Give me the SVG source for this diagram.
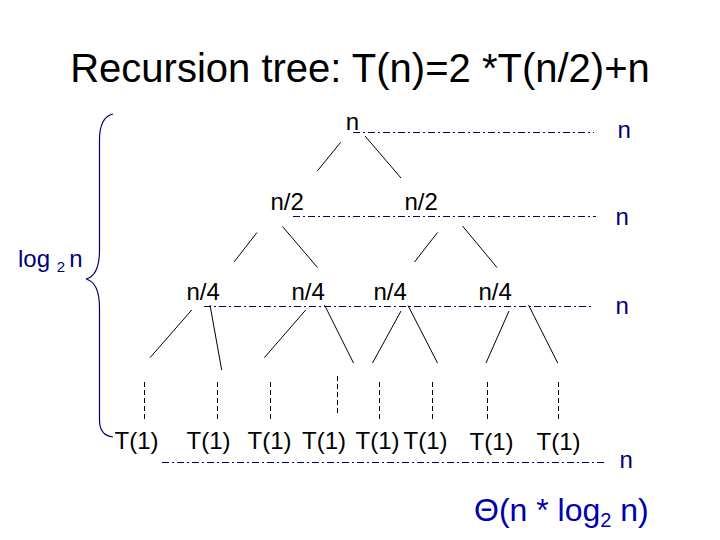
<svg xmlns="http://www.w3.org/2000/svg" width="720" height="540" viewBox="0 0 720 540">
<style>
text{font-family:"Liberation Sans",Arial,sans-serif;}
.lbl{font-size:24px;fill:#000;}
.blue{font-size:24px;fill:#00007a;}
.edge{stroke:#000;stroke-width:1;fill:none;}
.leaf{stroke:#000;stroke-width:1;stroke-dasharray:5,3;fill:none;}
.sum{stroke:#00005e;stroke-width:1;stroke-dasharray:7,3,2,3;fill:none;}
</style>
<rect width="720" height="540" fill="#fff"/>
<text id="title" x="360" y="82" text-anchor="middle" font-size="40" fill="#000">Recursion tree: T(n)=2 *T(n/2)+n</text>

<g id="connectors">
  <line class="edge" x1="340.7" y1="142.3" x2="317.3" y2="171"/>
  <line class="edge" x1="365" y1="136" x2="401" y2="178"/>
  <line class="edge" x1="257" y1="232.5" x2="234" y2="262"/>
  <line class="edge" x1="282.5" y1="226.5" x2="317.5" y2="267.5"/>
  <line class="edge" x1="437.5" y1="232.5" x2="414.5" y2="262"/>
  <line class="edge" x1="462.5" y1="226" x2="497" y2="267.5"/>
  <line class="edge" x1="191.7" y1="310" x2="150" y2="357.7"/>
  <line class="edge" x1="210" y1="305" x2="221.7" y2="370"/>
  <line class="edge" x1="305.7" y1="310" x2="264.3" y2="357.7"/>
  <line class="edge" x1="324.5" y1="305" x2="353.5" y2="363"/>
  <line class="edge" x1="401" y1="311" x2="372.5" y2="363"/>
  <line class="edge" x1="408" y1="305.5" x2="437.5" y2="363"/>
  <line class="edge" x1="509" y1="311" x2="486" y2="363"/>
  <line class="edge" x1="528.5" y1="305" x2="557.7" y2="363"/>
  <line class="leaf" x1="144.5" y1="382" x2="144.5" y2="422"/>
  <line class="leaf" x1="217.5" y1="382" x2="217.5" y2="422"/>
  <line class="leaf" x1="270.5" y1="382" x2="270.5" y2="422"/>
  <line class="leaf" x1="337.5" y1="376" x2="337.5" y2="416"/>
  <line class="leaf" x1="379.5" y1="382" x2="379.5" y2="422"/>
  <line class="leaf" x1="432.5" y1="382" x2="432.5" y2="422"/>
  <line class="leaf" x1="487.5" y1="382" x2="487.5" y2="422"/>
  <line class="leaf" x1="558.5" y1="382" x2="558.5" y2="422"/>
  <line class="sum" x1="353" y1="132.5" x2="594" y2="132.5"/>
  <line class="sum" x1="293" y1="216.5" x2="596" y2="216.5"/>
  <line class="sum" x1="204" y1="306.5" x2="593" y2="306.5"/>
  <line class="sum" x1="162" y1="462.5" x2="605" y2="462.5"/>
</g>

<g id="root"><text class="lbl" x="352.5" y="130" text-anchor="middle">n</text></g>
<g id="l1a"><text class="lbl" x="270.5" y="210">n/2</text></g>
<g id="l1b"><text class="lbl" x="404.5" y="210">n/2</text></g>
<g id="l2a"><text class="lbl" x="186.5" y="300">n/4</text></g>
<g id="l2b"><text class="lbl" x="291.5" y="300">n/4</text></g>
<g id="l2c"><text class="lbl" x="373.5" y="300">n/4</text></g>
<g id="l2d"><text class="lbl" x="478.5" y="300">n/4</text></g>
<g id="leaf1"><text class="lbl" x="114.5" y="449">T(1)</text></g>
<g id="leaf2"><text class="lbl" x="186.5" y="449">T(1)</text></g>
<g id="leaf3"><text class="lbl" x="247.5" y="449">T(1)</text></g>
<g id="leaf4"><text class="lbl" x="302" y="449">T(1)</text></g>
<g id="leaf5"><text class="lbl" x="355.5" y="449">T(1)</text></g>
<g id="leaf6"><text class="lbl" x="403.5" y="449">T(1)</text></g>
<g id="leaf7"><text class="lbl" x="469.5" y="450">T(1)</text></g>
<g id="leaf8"><text class="lbl" x="536.5" y="450">T(1)</text></g>

<g id="sums">
  <text class="blue" x="617.5" y="138">n</text>
  <text class="blue" x="615.5" y="225">n</text>
  <text class="blue" x="615.5" y="314">n</text>
  <text class="blue" x="619.5" y="468">n</text>
</g>

<g id="height">
  <path d="M113,114 C104,116 99.5,124 99.5,140 L99.5,250 C99.5,268 94,277 86,279 C94,281 99.5,290 99.5,308 L99.5,420 C99.5,430 104,436 113,437" stroke="#00007a" stroke-width="1.2" fill="none"/>
  <text class="blue" x="18" y="267">log <tspan font-size="15" dy="5">2 </tspan><tspan dy="-5">n</tspan></text>
</g>

<g id="total">
  <text x="474" y="521" font-size="32" fill="#0000b0">Θ(n * log<tspan font-size="20" dy="6">2</tspan><tspan dy="-6"> n)</tspan></text>
</g>
</svg>
